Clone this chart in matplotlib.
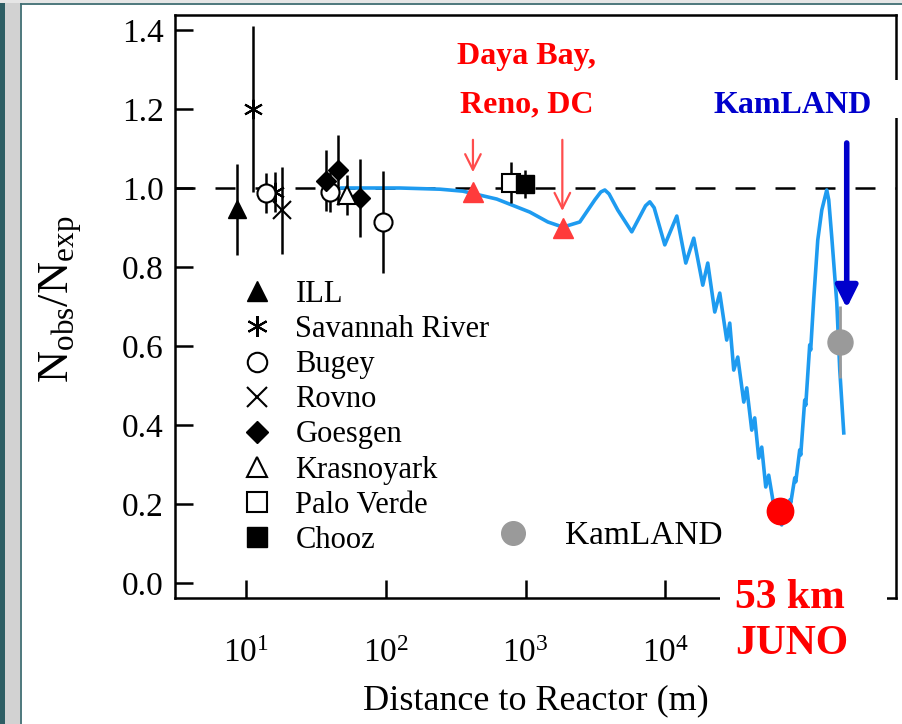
import matplotlib
matplotlib.use('Agg')
import matplotlib.pyplot as plt
from matplotlib.lines import Line2D
from matplotlib.patches import Rectangle
from matplotlib.ticker import NullLocator, FixedLocator, FormatStrFormatter

plt.rcParams['font.family'] = ['Liberation Serif', 'DejaVu Serif']
plt.rcParams['mathtext.fontset'] = 'custom'
plt.rcParams['mathtext.rm'] = 'Liberation Serif'
plt.rcParams['mathtext.it'] = 'Liberation Serif:italic'
plt.rcParams['mathtext.bf'] = 'Liberation Serif:bold'

# ---------------- data (distance in m, N_obs/N_exp) ----------------
curve_x = [48.5, 126, 244, 356, 622, 1072, 1442, 1846, 2440, 3125, 3450,
           3684, 3950, 4560, 5740, 7200, 7725, 8300, 9885, 12050, 13970,
           15930, 18480, 20060, 22510,
           24440, 27410, 28810, 30770, 32880, 36300, 38110, 41400, 43460,
           46450, 48780, 52120, 54720, 59420, 67760, 72400, 73600, 77400,
           78700, 84000, 85400, 91200, 92700, 99000, 100700, 107500, 109200,
           114700, 122700, 131100, 142300, 147000, 154500, 167900, 176300,
           188300]
curve_y = [1.000, 1.000, 0.997, 0.992, 0.972, 0.939, 0.914, 0.901, 0.914,
           0.970, 0.990, 0.995, 0.985, 0.944, 0.889, 0.955, 0.965, 0.950,
           0.856, 0.929, 0.810, 0.873,
           0.754, 0.810, 0.686, 0.734, 0.615, 0.658, 0.539, 0.572, 0.458,
           0.494, 0.387, 0.418, 0.316, 0.344, 0.243, 0.273, 0.197, 0.147,
           0.180, 0.172, 0.210, 0.203, 0.266, 0.256, 0.337, 0.324, 0.463,
           0.450, 0.603, 0.590, 0.716, 0.868, 0.944, 0.995, 0.970, 0.876,
           0.709, 0.539, 0.380]

ill_x, ill_y, ill_err = [8.6], [0.946], [0.115]
srp_x, srp_y, srp_err = [11.2, 16.1], [1.20, 0.99], [0.21, 0.05]
bugey_x, bugey_y, bugey_err = [14.0, 40.0, 95.0], [0.987, 0.990, 0.914], [0.05, 0.05, 0.13]
rovno_x, rovno_y, rovno_err = [18.1], [0.944], [0.11]
goesgen_x, goesgen_y, goesgen_err = [37.3, 45.5, 65.3], [1.018, 1.046, 0.975], [0.077, 0.088, 0.098]
krasno_x, krasno_y, krasno_err = [52.7], [0.982], [0.05]
palo_x, palo_y, palo_err = [783], [1.013], [0.052]
chooz_x, chooz_y, chooz_err = [986], [1.010], [0.035]

theta13_x, theta13_y = [420, 1846], [0.990, 0.899]
juno_x, juno_y = [65600], [0.182]
kam_x, kam_y, kam_err = [176000], [0.61], [0.09]

red_arrow_x = [420, 1830]
red_arrow_tail = [1.122, 1.122]
red_arrow_tip = [1.040, 0.942]
blue_arrow_x, blue_arrow_tail, blue_arrow_tip = 197700, 1.114, 0.696

legend_labels = ['ILL', 'Savannah River', 'Bugey', 'Rovno', 'Goesgen',
                 'Krasnoyark', 'Palo Verde', 'Chooz']
y_ticks = [0.0, 0.2, 0.4, 0.6, 0.8, 1.0, 1.2, 1.4]
x_ticks = [1e1, 1e2, 1e3, 1e4]

# ---------------- figure ----------------
W, H = 903, 724
fig = plt.figure(figsize=(W / 100, H / 100), dpi=100)
fig.patch.set_facecolor('white')

# slide frame decorations
fig.add_artist(Rectangle((0, 0), 20 / W, 1, transform=fig.transFigure,
                         fc='#D2D2D2', ec='none', zorder=20))
fig.add_artist(Rectangle((0, 0), 5 / W, 1 - 3 / H, transform=fig.transFigure,
                         fc='#2E5E64', ec='none', zorder=21))
fig.add_artist(Rectangle((0, 1 - 3 / H), 1, 3 / H, transform=fig.transFigure,
                         fc='#E6E6E6', ec='none', zorder=20))
fig.add_artist(Line2D([21 / W, 21 / W], [0, 1 - 3.5 / H], transform=fig.transFigure,
                      color='#3F6D72', lw=1.3, zorder=22))
fig.add_artist(Line2D([21 / W, 1], [1 - 3.5 / H, 1 - 3.5 / H], transform=fig.transFigure,
                      color='#3F6D72', lw=1.3, zorder=22))

ax = fig.add_axes([175 / W, 1 - 598 / H, (896 - 175) / W, (598 - 15) / H])
ax.set_xscale('log')
ax.set_xlim(3.11, 4.45e5)
ax.set_ylim(-0.038, 1.438)

for s in ax.spines.values():
    s.set_linewidth(1.8)

ax.xaxis.set_major_locator(FixedLocator(x_ticks))
ax.xaxis.set_minor_locator(NullLocator())
ax.yaxis.set_major_locator(FixedLocator(y_ticks))
ax.yaxis.set_major_formatter(FormatStrFormatter('%.1f'))
ax.tick_params(direction='in', length=13, width=1.8, labelsize=24)
ax.tick_params(axis='x', pad=29)
ax.tick_params(axis='y', pad=8)

# reference line
ax.axhline(1.0, color='black', lw=1.8, dashes=(8, 8), zorder=2)

# oscillation curve
ax.plot(curve_x, curve_y, color='#1E9BF0', lw=2.6, zorder=3, solid_joinstyle='round')

ek = dict(color='black', elinewidth=1.8, capsize=0, ls='none', zorder=4)
ax.errorbar(ill_x, ill_y, yerr=ill_err, marker='^', ms=13, **ek)
ax.errorbar(srp_x, srp_y, yerr=srp_err, marker=(6, 2, 0), ms=14, mew=1.5, **ek)
ax.errorbar(bugey_x, bugey_y, yerr=bugey_err, marker='o', ms=13, mfc='white', mew=1.5, **ek)
ax.errorbar(rovno_x, rovno_y, yerr=rovno_err, marker='x', ms=13, mew=1.5, **ek)
ax.errorbar(goesgen_x, goesgen_y, yerr=goesgen_err, marker='D', ms=10, **ek)
ax.errorbar(krasno_x, krasno_y, yerr=krasno_err, marker='^', ms=13, mfc='white', mew=1.5, **ek)
ax.errorbar(palo_x, palo_y, yerr=palo_err, marker='s', ms=13, mfc='white', mew=1.5, **ek)
ax.errorbar(chooz_x, chooz_y, yerr=chooz_err, marker='s', ms=13, **ek)

# theta13 experiments
ax.plot(theta13_x, theta13_y, ls='none', marker='^', ms=15, color='#FF3B3B', zorder=5)
for xa, yt, yh in zip(red_arrow_x, red_arrow_tail, red_arrow_tip):
    ax.annotate('', xy=(xa, yh), xytext=(xa, yt),
                arrowprops=dict(arrowstyle='->', color='#FF4D4D', lw=1.6,
                                mutation_scale=28, shrinkA=0, shrinkB=0), zorder=5)

# KamLAND and JUNO
ax.errorbar(kam_x, kam_y, yerr=kam_err, marker='o', ms=18, color='#9A9A9A',
            elinewidth=2, capsize=0, ls='none', zorder=6)
ax.plot(juno_x, juno_y, ls='none', marker='o', ms=19, color='#FF0000', zorder=6)
ax.annotate('', xy=(blue_arrow_x, blue_arrow_tip), xytext=(blue_arrow_x, blue_arrow_tail),
            arrowprops=dict(arrowstyle='-|>', color='#0000CC', lw=4,
                            mutation_scale=33, shrinkA=0, shrinkB=0), zorder=7)

# annotations
ax.text(1020, 1.332, 'Daya Bay,', color='#FF0000', fontsize=23, fontweight='bold',
        ha='center', va='center')
ax.text(1020, 1.21, 'Reno, DC', color='#FF0000', fontsize=23, fontweight='bold',
        ha='center', va='center')
ax.text(81300, 1.21, 'KamLAND', color='#0000CC', fontsize=23, fontweight='bold',
        ha='center', va='center', zorder=8)

# legend for old experiments
handles = [
    Line2D([], [], ls='none', marker='^', ms=15, color='black'),
    Line2D([], [], ls='none', marker=(6, 2, 0), ms=15, mew=1.5, color='black'),
    Line2D([], [], ls='none', marker='o', ms=14, mfc='white', mew=1.5, color='black'),
    Line2D([], [], ls='none', marker='x', ms=14, mew=1.5, color='black'),
    Line2D([], [], ls='none', marker='D', ms=11, color='black'),
    Line2D([], [], ls='none', marker='^', ms=15, mfc='white', mew=1.5, color='black'),
    Line2D([], [], ls='none', marker='s', ms=14, mfc='white', mew=1.5, color='black'),
    Line2D([], [], ls='none', marker='s', ms=14, color='black'),
]
leg1 = ax.legend(handles, legend_labels, loc='upper left',
                 bbox_to_anchor=(242 / W, 1 - 280 / H), bbox_transform=fig.transFigure,
                 frameon=False, fontsize=22, handlelength=1.0, handletextpad=0.75,
                 labelspacing=0.20, borderpad=0, borderaxespad=0)
ax.add_artist(leg1)
kam_handle = Line2D([], [], ls='none', marker='o', ms=17, color='#9A9A9A')
ax.legend([kam_handle], ['KamLAND'], loc='center left',
          bbox_to_anchor=(496 / W, 1 - 536 / H), bbox_transform=fig.transFigure,
          frameon=False, fontsize=24, handlelength=1.0, handletextpad=1.08,
          borderpad=0, borderaxespad=0)

# labels
ax.set_ylabel(r'$\mathregular{N_{obs}/N_{exp}}$', fontsize=32, va='center')
ax.yaxis.set_label_coords((61 - 175) / 721, (598 - 299) / 583)
ax.set_xlabel('Distance to Reactor (m)', fontsize=26, va='center')
ax.xaxis.set_label_coords(0.5, (598 - 701) / 583)

# white patches cut the frame where the labels sit
fig.add_artist(Rectangle((720 / W, 1 - 606 / H), (887 - 720) / W, 14 / H,
                         transform=fig.transFigure, fc='white', ec='none', zorder=10))
fig.add_artist(Rectangle((885 / W, 1 - 118 / H), 15 / W, 38 / H,
                         transform=fig.transFigure, fc='white', ec='none', zorder=10))
fig.text(735 / W, 1 - 598 / H, '53 km', color='#FF0000', fontsize=30,
         fontweight='bold', ha='left', va='center', zorder=11)
fig.text(735 / W, 1 - 644 / H, 'JUNO', color='#FF0000', fontsize=30,
         fontweight='bold', ha='left', va='center', zorder=11)

fig.savefig('out.png', dpi=100)
